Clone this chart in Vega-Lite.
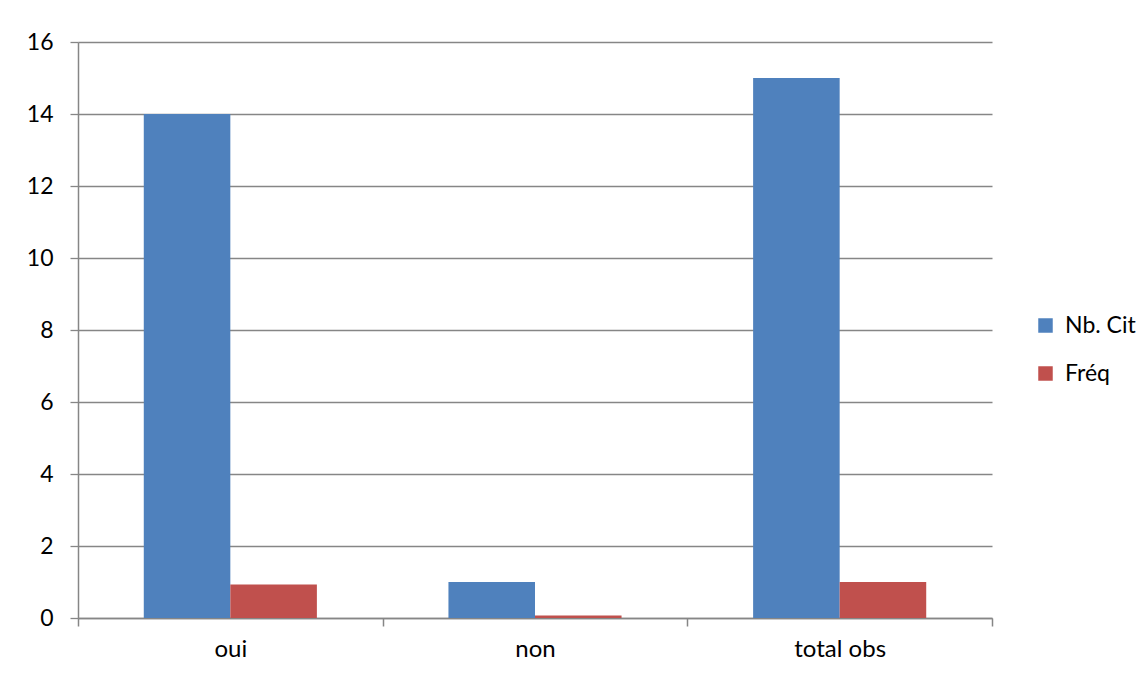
{
  "$schema": "https://vega.github.io/schema/vega-lite/v6.json",
  "width": 914,
  "height": 576,
  "autosize": {"type": "none"},
  "padding": {"left": 78, "top": 42, "right": 155, "bottom": 57},
  "background": "white",
  "config": {
    "view": {"stroke": null},
    "font": "Lato"
  },
  "data": {
    "values": [
      {"categorie": "oui", "serie": "Nb. Cit", "valeur": 14},
      {"categorie": "oui", "serie": "Fréq", "valeur": 0.93},
      {"categorie": "non", "serie": "Nb. Cit", "valeur": 1},
      {"categorie": "non", "serie": "Fréq", "valeur": 0.07},
      {"categorie": "total obs", "serie": "Nb. Cit", "valeur": 15},
      {"categorie": "total obs", "serie": "Fréq", "valeur": 1}
    ]
  },
  "mark": {"type": "bar"},
  "encoding": {
    "x": {
      "field": "categorie",
      "type": "nominal",
      "sort": ["oui", "non", "total obs"],
      "scale": {"paddingInner": 0, "paddingOuter": 0},
      "axis": {
        "title": null,
        "labelAngle": 0,
        "labelFont": "Lato",
        "labelFontSize": 24,
        "labelColor": "#000000",
        "domainColor": "#868686",
        "domainWidth": 1.5,
        "tickColor": "#868686",
        "tickWidth": 1.5,
        "tickSize": 8,
        "tickBand": "extent",
        "labelPadding": 11
      }
    },
    "xOffset": {
      "field": "serie",
      "type": "nominal",
      "sort": ["Nb. Cit", "Fréq"],
      "scale": {"paddingInner": 0, "paddingOuter": 0.76}
    },
    "y": {
      "field": "valeur",
      "type": "quantitative",
      "scale": {"domain": [0, 16], "nice": false},
      "axis": {
        "title": null,
        "values": [0, 2, 4, 6, 8, 10, 12, 14, 16],
        "labelFont": "Lato",
        "labelFontSize": 23,
        "labelColor": "#000000",
        "grid": true,
        "gridColor": "#868686",
        "gridWidth": 1.3,
        "domainColor": "#868686",
        "domainWidth": 1.5,
        "tickColor": "#868686",
        "tickWidth": 1.3,
        "tickSize": 8,
        "labelPadding": 17
      }
    },
    "color": {
      "field": "serie",
      "type": "nominal",
      "sort": ["Nb. Cit", "Fréq"],
      "scale": {"domain": ["Nb. Cit", "Fréq"], "range": ["#4F81BD", "#C0504D"]},
      "legend": {
        "title": null,
        "orient": "none",
        "legendX": 956,
        "legendY": 272,
        "symbolType": "square",
        "symbolSize": 210,
        "symbolStrokeWidth": 0,
        "symbolOpacity": 1,
        "labelFont": "Lato",
        "labelFontSize": 23,
        "labelColor": "#000000",
        "labelOffset": 8,
        "rowPadding": 24
      }
    }
  }
}
